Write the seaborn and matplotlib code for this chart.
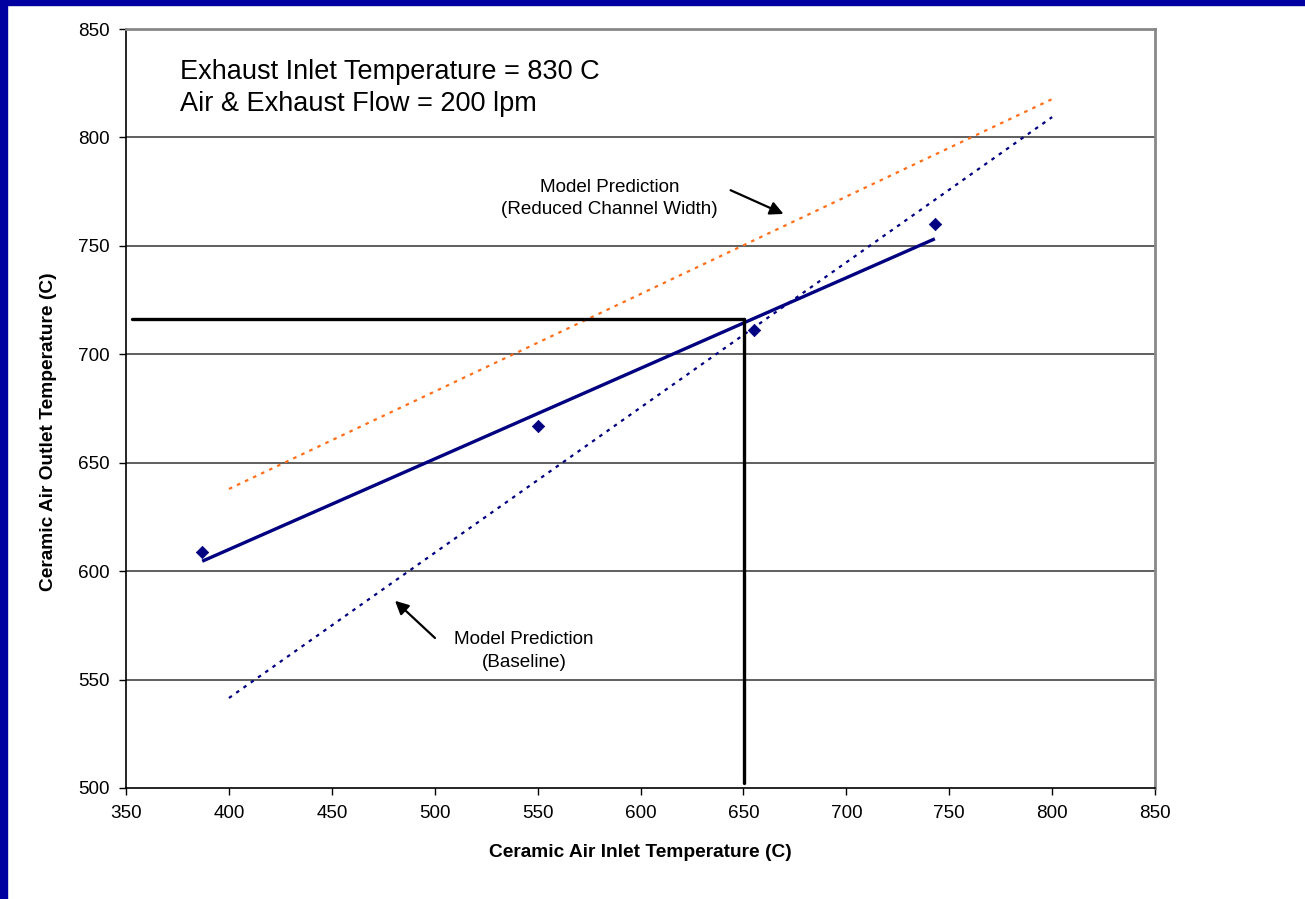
import numpy as np
import pandas as pd
import matplotlib.pyplot as plt
import seaborn as sns
from matplotlib.patches import Rectangle

# measured data
inlet_temp = [387, 550, 655, 743]
outlet_temp = [609, 667, 711, 760]

# model predictions (end points of the straight model lines)
model_x = [400, 800]
baseline_y = [541.5, 809.4]
reduced_y = [637.9, 817.7]

# design point cross-hair
design_x = 650.3
design_y = 716.3

navy = '#000080'
orange = '#FF6F1A'

sns.set_theme(style='white')
plt.rcParams['font.family'] = ['Liberation Sans', 'DejaVu Sans']
plt.rcParams['text.color'] = 'black'
plt.rcParams['axes.labelcolor'] = 'black'
plt.rcParams['xtick.color'] = 'black'
plt.rcParams['ytick.color'] = 'black'

fig = plt.figure(figsize=(13.05, 8.99), dpi=100)
ax = fig.add_axes([0.0966, 0.1235, 0.7885, 0.8442])

# blue frame on left and top
fig.patches.append(Rectangle((0, 0), 7 / 1305, 1, transform=fig.transFigure,
                             color='#0000A0', zorder=10))
fig.patches.append(Rectangle((0, 1 - 5 / 899), 1, 5 / 899, transform=fig.transFigure,
                             color='#0000A0', zorder=10))

for y in range(550, 850, 50):
    ax.axhline(y, color='#333333', lw=1.1, zorder=0)

df = pd.DataFrame({'inlet': inlet_temp, 'outlet': outlet_temp})
sns.regplot(data=df, x='inlet', y='outlet', ax=ax, ci=None, scatter=False,
            line_kws={'color': navy, 'lw': 2.4, 'solid_capstyle': 'butt'})
sns.scatterplot(data=df, x='inlet', y='outlet', ax=ax, marker='D', s=40,
                color=navy, edgecolor=navy, zorder=5)

sns.lineplot(x=model_x, y=baseline_y, ax=ax, color=navy, lw=1.6,
             linestyle=(0, (1.6, 2.4)))
sns.lineplot(x=model_x, y=reduced_y, ax=ax, color=orange, lw=1.6,
             linestyle=(0, (1.6, 2.4)))

ax.plot([352.9, design_x], [design_y, design_y], color='black', lw=2.4)
ax.plot([design_x, design_x], [design_y, 502.3], color='black', lw=2.4)

ax.annotate('', xy=(670.7, 764.2), xytext=(642.5, 776.2),
            arrowprops=dict(arrowstyle='-|>', color='black', lw=1.6, mutation_scale=20))
ax.text(585.0, 772.0, 'Model Prediction\n(Reduced Channel Width)', ha='center', va='center',
        fontsize=13.6, linespacing=1.4)
ax.annotate('', xy=(479.7, 587.2), xytext=(501.1, 568.3),
            arrowprops=dict(arrowstyle='-|>', color='black', lw=1.6, mutation_scale=20))
ax.text(543.4, 563.2, 'Model Prediction\n(Baseline)', ha='center', va='center',
        fontsize=13.6, linespacing=1.4)

ax.text(0.0525, 0.961, 'Exhaust Inlet Temperature = 830 C\nAir & Exhaust Flow = 200 lpm',
        transform=ax.transAxes, ha='left', va='top', fontsize=19.5, linespacing=1.3)

ax.set_xlim(350, 850)
ax.set_ylim(500, 850)
ax.set_xticks(range(350, 851, 50))
ax.set_yticks(range(500, 851, 50))
ax.tick_params(axis='both', labelsize=13.6, length=5, width=1, color='black',
               direction='out', left=True, bottom=True, pad=7)
ax.set_xlabel('Ceramic Air Inlet Temperature (C)', fontsize=13.8, fontweight='bold')
ax.set_ylabel('Ceramic Air Outlet Temperature (C)', fontsize=13.8, fontweight='bold')
ax.xaxis.set_label_coords(0.5, -0.074)
ax.yaxis.set_label_coords(-0.0675, 0.47)

for side in ['left', 'bottom']:
    ax.spines[side].set_color('black')
    ax.spines[side].set_linewidth(1.2)
for side in ['top', 'right']:
    ax.spines[side].set_color('#888888')
    ax.spines[side].set_linewidth(2)

fig.savefig('out.png', dpi=100, facecolor='white')
